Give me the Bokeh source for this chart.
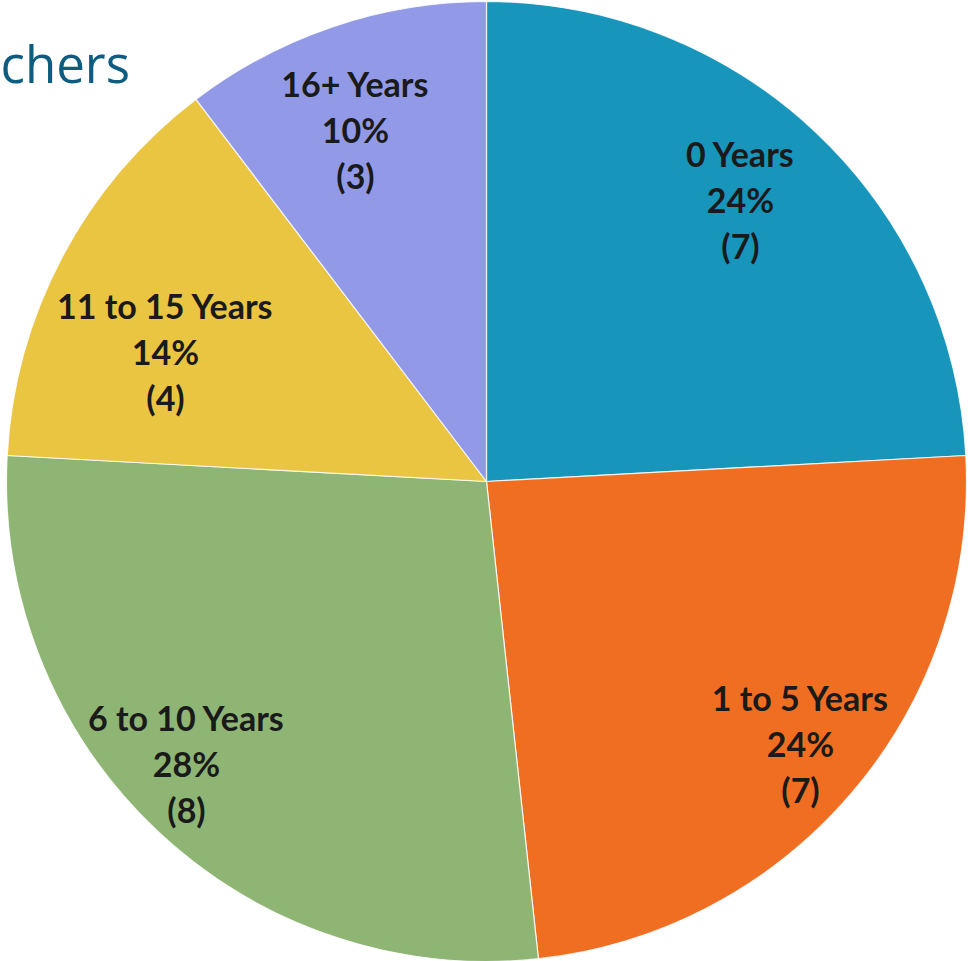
import math
from bokeh.plotting import figure
from bokeh.models import Range1d, Label
from bokeh.core.properties import value
from bokeh.embed import file_html
from bokeh.resources import INLINE

# ---- data ----
categories = ["0 Years", "1 to 5 Years", "6 to 10 Years", "11 to 15 Years", "16+ Years"]
counts = [7, 7, 8, 4, 3]
colors = ["#1795BB", "#F06E21", "#8FB574", "#EAC541", "#929AE8"]
title_text = "chers"

# label anchor positions (image pixel coordinates of the first line centre)
label_pos = [(740, 153), (800, 697), (186, 717), (165, 305), (355, 83)]

W, H = 968, 961
total = sum(counts)
pcts = [round(c / total * 100) for c in counts]

# cumulative angles, clockwise from 12 o'clock
starts, ends = [], []
acc = 0.0
for c in counts:
    a0 = acc / total * 2 * math.pi
    acc += c
    a1 = acc / total * 2 * math.pi
    starts.append(math.pi / 2 - a0)
    ends.append(math.pi / 2 - a1)

def fx(ix):
    return ix

def fy(iy):
    return H - iy

cx, cy, R = fx(486), fy(481), 480

p = figure(width=W, height=H, output_backend="svg", toolbar_location=None,
           x_range=Range1d(0, W), y_range=Range1d(0, H), min_border=0)
p.axis.visible = False
p.grid.visible = False
p.outline_line_color = None
p.background_fill_color = "white"

p.wedge(x=[cx] * len(counts), y=[cy] * len(counts), radius=R,
        start_angle=starts, end_angle=ends, direction="clock",
        fill_color=colors, line_color="white", line_width=1.2, line_alpha=0.8)

for cat, pc, c, (lx, ly) in zip(categories, pcts, counts, label_pos):
    lines = [cat, f"{pc}%", f"({c})"]
    for k, t in enumerate(lines):
        p.text(x=[fx(lx)], y=[fy(ly + 46 * k)], text=[t],
               text_font=value("Lato"), text_font_style="bold",
               text_font_size="34px", text_color="#1A1A1A",
               text_align="center", text_baseline="middle")

p.add_layout(Label(x=fx(0), y=fy(62), text=title_text, text_font="Open Sans",
                   text_font_size="51px", text_color="#0E5C80",
                   text_align="left", text_baseline="middle"))

open("out.html", "w").write(file_html(p, INLINE))
